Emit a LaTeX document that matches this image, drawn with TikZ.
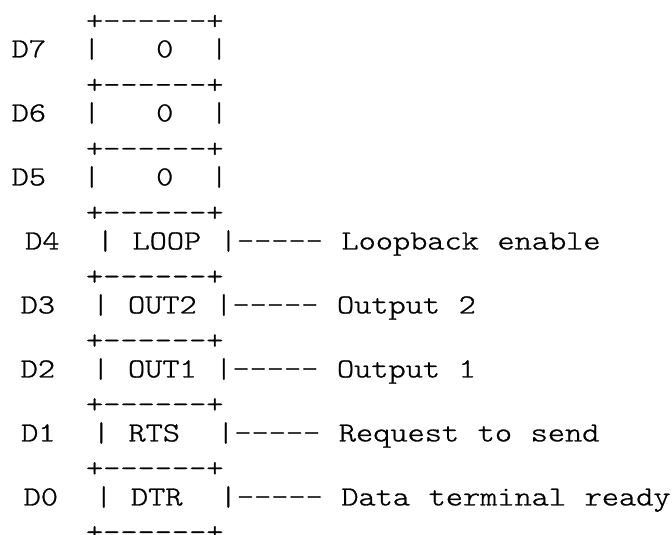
\documentclass[tikz,border=0pt]{standalone}
\usepackage{fontspec}
\setmonofont{lmmonolt10-regular}[Extension=.otf, WordSpace={1.082,0,0}, FakeStretch=1.19, FakeBold=1]
\usepackage{tikz}

\begin{document}
\begin{tikzpicture}[x=1pt, y=-1pt,
    row/.style={anchor=base west, inner sep=0pt,
        font=\ttfamily\fontsize{27.5pt}{30pt}\selectfont}]
    \useasboundingbox (0,0) rectangle (672,535);
    % box borders
    \foreach \k in {0,2,...,16}
        \node (sep\k) at (11.5,{29.4+31.95*\k}) [row] {~~~~+------+};
    % register bits
    \node (d7) at (11.5,57.4)  [row] {D7~~|~~~0~~|};
    \node (d6) at (11.5,121.4) [row] {D6~~|~~~0~~|};
    \node (d5) at (11.5,185.4) [row] {D5~~|~~~0~~|};
    \node (d4) at (25,249.4)   [row] {D4~~|~LOOP~|-----~Loopback~enable};
    \node (d3) at (20.5,313.4) [row] {D3~~|~OUT2~|-----~Output~2};
    \node (d2) at (20.5,377.4) [row] {D2~~|~OUT1~|-----~Output~1};
    \node (d1) at (21,441.4)   [row] {D1~~|~RTS~~|-----~Request~to~send};
    \node (d0) at (23.5,505.4) [row] {D0~~|~DTR~~|-----~Data~terminal~ready};
\end{tikzpicture}
\end{document}
